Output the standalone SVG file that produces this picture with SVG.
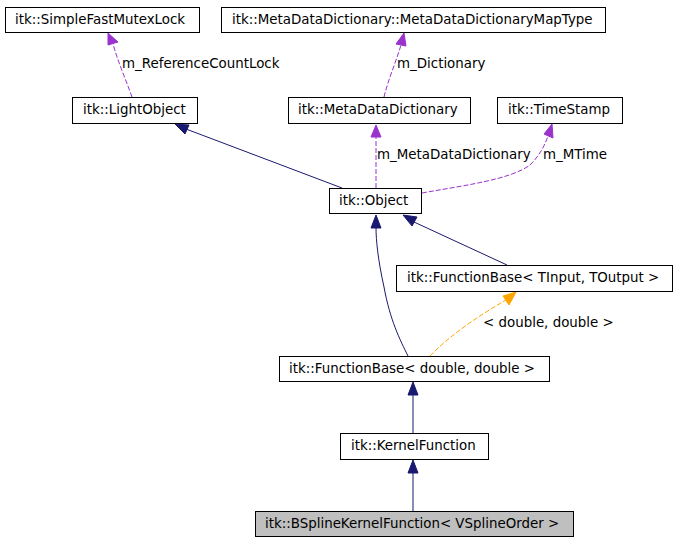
<svg xmlns="http://www.w3.org/2000/svg" width="676" height="541" viewBox="0 0 676 541">
<style>
.box{fill:#fff;stroke:#000;stroke-width:1}
.t{font-family:"DejaVu Sans",sans-serif;font-size:13.4px;fill:#000}
.inh{fill:none;stroke:#191970;stroke-width:1}
.mem{fill:none;stroke:#9a32cd;stroke-width:1;stroke-dasharray:5,2}
.tpl{fill:none;stroke:#ffa500;stroke-width:1;stroke-dasharray:5,2}
.ah-n{fill:#191970;stroke:#191970}
.ah-p{fill:#9a32cd;stroke:#9a32cd}
.ah-o{fill:#ffa500;stroke:#ffa500}
</style>
<rect width="676" height="541" fill="#fff"/>
<g id="connectors">
  <path class="mem" d="M132,97 C126,80 118,62 113,44"/>
  <polygon class="ah-p" points="108,33 118,42 108,45"/>
  <text class="t" x="122" y="68">m_ReferenceCountLock</text>

  <path class="mem" d="M384,97 C388,80 396,62 401,45"/>
  <polygon class="ah-p" points="404,33 406,46 396,44"/>
  <text class="t" x="397" y="68">m_Dictionary</text>

  <path class="mem" d="M376,188 L376,136"/>
  <polygon class="ah-p" points="376,125 381,137 371,137"/>
  <text class="t" x="377" y="159">m_MetaDataDictionary</text>

  <path class="mem" d="M422,193 C460,186 510,180 530,165 C540,155 545,145 548,136"/>
  <polygon class="ah-p" points="552,124 553,138 544,134"/>
  <text class="t" x="543" y="159">m_MTime</text>

  <path class="inh" d="M342,188 L186,129"/>
  <polygon class="ah-n" points="175,124 189,125 185,134"/>

  <path class="inh" d="M408,356 C400,340 390,320 384,287 C378,260 376,240 376,228"/>
  <polygon class="ah-n" points="376,215 381,228 371,228"/>

  <path class="inh" d="M507,265 L414,222"/>
  <polygon class="ah-n" points="403,215 417,217 412,226"/>

  <path class="tpl" d="M430,356 C450,335 480,315 506,300"/>
  <polygon class="ah-o" points="516,292 509,305 503,296"/>
  <text class="t" x="483" y="327">&lt; double, double &gt;</text>

  <path class="inh" d="M413,433 L413,395"/>
  <polygon class="ah-n" points="413,382 418,395 408,395"/>

  <path class="inh" d="M413,511 L413,473"/>
  <polygon class="ah-n" points="413,460 418,473 408,473"/>
</g>
<g id="SimpleFastMutexLock"><rect class="box" x="5.5" y="7.5" width="194" height="25"/><text class="t" x="15" y="24">itk::SimpleFastMutexLock</text></g>
<g id="MetaDataDictionaryMapType"><rect class="box" x="221.5" y="7.5" width="384" height="25"/><text class="t" x="232" y="24">itk::MetaDataDictionary::MetaDataDictionaryMapType</text></g>
<g id="LightObject"><rect class="box" x="72.5" y="97.5" width="125" height="26"/><text class="t" x="83" y="114">itk::LightObject</text></g>
<g id="MetaDataDictionary"><rect class="box" x="288.5" y="97.5" width="182" height="26"/><text class="t" x="298" y="114">itk::MetaDataDictionary</text></g>
<g id="TimeStamp"><rect class="box" x="497.5" y="97.5" width="125" height="26"/><text class="t" x="508" y="114">itk::TimeStamp</text></g>
<g id="Object"><rect class="box" x="329.5" y="188.5" width="92" height="25"/><text class="t" x="339" y="205">itk::Object</text></g>
<g id="FunctionBaseTInputTOutput"><rect class="box" x="396.5" y="265.5" width="276" height="26"/><text class="t" x="407" y="282">itk::FunctionBase&lt; TInput, TOutput &gt;</text></g>
<g id="FunctionBaseDoubleDouble"><rect class="box" x="279.5" y="356.5" width="270" height="25"/><text class="t" x="289" y="373">itk::FunctionBase&lt; double, double &gt;</text></g>
<g id="KernelFunction"><rect class="box" x="340.5" y="433.5" width="148" height="26"/><text class="t" x="351" y="450">itk::KernelFunction</text></g>
<g id="BSplineKernelFunction"><rect class="box" x="255.5" y="511.5" width="318" height="25" style="fill:#bfbfbf"/><text class="t" x="265" y="528">itk::BSplineKernelFunction&lt; VSplineOrder &gt;</text></g>
</svg>
